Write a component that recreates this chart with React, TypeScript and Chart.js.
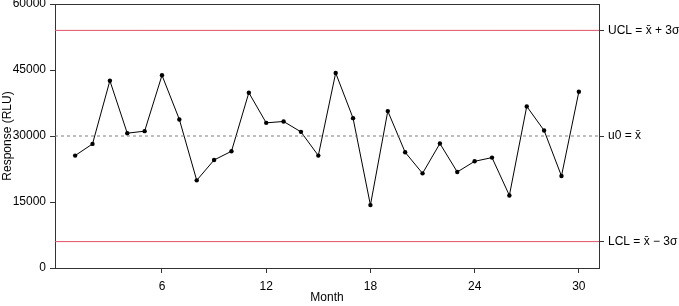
import React, { useEffect, useRef } from "react";
import { Chart, registerables } from "chart.js";

Chart.register(...registerables);

const MONTHS = [1, 2, 3, 4, 5, 6, 7, 8, 9, 10, 11, 12, 13, 14, 15, 16, 17, 18, 19, 20, 21, 22, 23, 24, 25, 26, 27, 28, 29, 30];
const RESPONSE = [25550, 28200, 42570, 30640, 31100, 43800, 33760, 19920, 24550, 26530, 39840, 32990, 33300, 30940, 25550, 44330, 34060, 14290, 35660, 26300, 21510, 28290, 21820, 24250, 25090, 16490, 36730, 31250, 20900, 40060];
const X_TICKS = [6, 12, 18, 24, 30];
const Y_TICKS = [0, 15000, 30000, 45000, 60000];
const CENTER = 30000;
const UCL = 54000;
const LCL = 6000;
const LIMIT_VALUES = [LCL, CENTER, UCL];
const LIMIT_LABELS = ["LCL = x\u0304 \u2212 3\u03C3", "u0 = x\u0304", "UCL = x\u0304 + 3\u03C3"];
const X_MIN = -0.16;
const X_MAX = 31.16;
const Y_MIN = 0;
const Y_MAX = 60000;

const FONT = "'Liberation Sans', Arial, Helvetica, sans-serif";
const AXIS_COLOR = "#333333";
const RED = "#DF536B";

const boxPlugin = {
  id: "box",
  beforeDatasetsDraw(chart: any) {
    const { ctx, chartArea } = chart;
    ctx.save();
    ctx.strokeStyle = AXIS_COLOR;
    ctx.lineWidth = 1;
    ctx.strokeRect(
      Math.round(chartArea.left) + 0.5,
      Math.round(chartArea.top) + 0.5,
      Math.round(chartArea.right - chartArea.left),
      Math.round(chartArea.bottom - chartArea.top)
    );
    ctx.restore();
  },
};

export default function App() {
  const ref = useRef<HTMLCanvasElement | null>(null);

  useEffect(() => {
    if (!ref.current) return;
    const points = MONTHS.map((m, i) => ({ x: m, y: RESPONSE[i] }));
    const hLine = (v: number) => [
      { x: X_MIN, y: v },
      { x: X_MAX, y: v },
    ];
    const chart = new Chart(ref.current, {
      type: "line",
      data: {
        datasets: [
          {
            label: "UCL",
            data: hLine(UCL),
            borderColor: RED,
            borderWidth: 1,
            pointRadius: 0,
          },
          {
            label: "LCL",
            data: hLine(LCL),
            borderColor: RED,
            borderWidth: 1,
            pointRadius: 0,
          },
          {
            label: "Center",
            data: hLine(CENTER),
            borderColor: "#808080",
            borderWidth: 1,
            borderDash: [3, 3],
            pointRadius: 0,
          },
          {
            label: "Response",
            data: points,
            borderColor: "#000000",
            borderWidth: 1,
            pointRadius: 2.2,
            pointBackgroundColor: "#000000",
            pointBorderColor: "#000000",
            pointBorderWidth: 0,
          },
        ],
      },
      options: {
        responsive: false,
        animation: false,
        layout: { padding: { top: 4, left: 0, right: 0, bottom: 0 } },
        plugins: {
          legend: { display: false },
          tooltip: { enabled: false },
        },
        font: { family: FONT },
        scales: {
          x: {
            type: "linear",
            min: X_MIN,
            max: X_MAX,
            afterBuildTicks: (s: any) => {
              s.ticks = X_TICKS.map((v) => ({ value: v }));
            },
            afterFit: (s: any) => {
              s.height = 38;
              s.paddingLeft = 0;
              s.paddingRight = 0;
            },
            grid: {
              drawOnChartArea: false,
              drawTicks: true,
              tickLength: 5,
              color: AXIS_COLOR,
            },
            border: { display: false },
            ticks: {
              color: "#000",
              font: { family: FONT, size: 12 },
              padding: 6,
              maxRotation: 0,
              autoSkip: false,
              callback: (v: any) => String(v),
            },
            title: {
              display: true,
              text: "Month",
              color: "#000",
              font: { family: FONT, size: 12 },
              padding: { top: 0, bottom: 1 },
            },
          },
          y: {
            type: "linear",
            position: "left",
            min: Y_MIN,
            max: Y_MAX,
            afterBuildTicks: (s: any) => {
              s.ticks = Y_TICKS.map((v) => ({ value: v }));
            },
            afterFit: (s: any) => {
              s.width = 55;
              s.paddingTop = 0;
              s.paddingBottom = 0;
            },
            grid: {
              drawOnChartArea: false,
              drawTicks: true,
              tickLength: 5,
              color: AXIS_COLOR,
            },
            border: { display: false },
            ticks: {
              color: "#000",
              font: { family: FONT, size: 12 },
              padding: 4,
              autoSkip: false,
              callback: (v: any) => String(v),
            },
            title: {
              display: true,
              text: "Response (RLU)",
              color: "#000",
              font: { family: FONT, size: 12 },
              padding: { top: 0, bottom: 0 },
            },
          },
          y2: {
            type: "linear",
            position: "right",
            min: Y_MIN,
            max: Y_MAX,
            afterBuildTicks: (s: any) => {
              s.ticks = LIMIT_VALUES.map((v) => ({ value: v }));
            },
            afterFit: (s: any) => {
              s.width = 80;
              s.paddingTop = 0;
              s.paddingBottom = 0;
            },
            grid: {
              drawOnChartArea: false,
              drawTicks: true,
              tickLength: 5,
              color: AXIS_COLOR,
            },
            border: { display: false },
            ticks: {
              color: "#000",
              font: { family: FONT, size: 12 },
              padding: 4,
              autoSkip: false,
              callback: (v: any) => {
                const idx = LIMIT_VALUES.indexOf(Number(v));
                return idx >= 0 ? LIMIT_LABELS[idx] : "";
              },
            },
          },
        },
      } as any,
      plugins: [boxPlugin],
    });
    return () => chart.destroy();
  }, []);

  return (
    <div style={{ position: "fixed", left: 0, top: 0, width: 679, height: 306, background: "#fff" }}>
      <canvas ref={ref} width={679} height={306} style={{ display: "block" }} />
    </div>
  );
}
